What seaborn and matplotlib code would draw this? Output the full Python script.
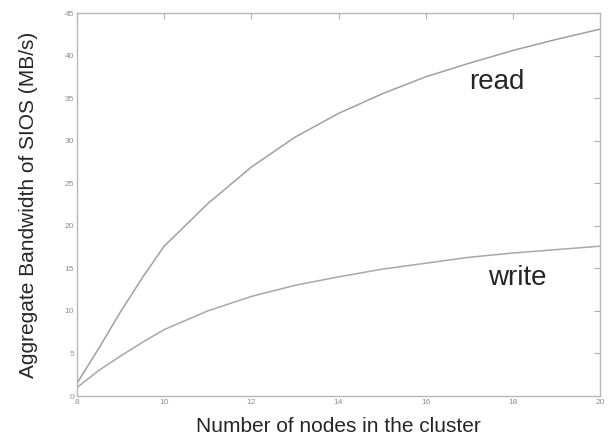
import numpy as np
import pandas as pd
import matplotlib
matplotlib.use("Agg")
import matplotlib.pyplot as plt
import seaborn as sns

# ── Data ────────────────────────────────────────────────────
nodes = [8, 8.5, 9, 9.5, 10, 11, 12, 13, 14, 15, 16, 17, 18, 19, 20]
read_bw = [1.5, 5.6, 9.9, 13.9, 17.6, 22.6, 26.9, 30.4, 33.2, 35.5,
           37.5, 39.1, 40.6, 41.9, 43.1]
write_bw = [1.0, 3.0, 4.7, 6.3, 7.8, 10.0, 11.7, 13.0, 14.0, 14.9,
            15.6, 16.3, 16.8, 17.2, 17.6]
x_ticks = [8, 10, 12, 14, 16, 18, 20]
y_ticks = [0, 5, 10, 15, 20, 25, 30, 35, 40, 45]

df = pd.DataFrame({
    'nodes': nodes * 2,
    'bw': read_bw + write_bw,
    'mode': ['read'] * len(nodes) + ['write'] * len(nodes),
})

# ── Style ───────────────────────────────────────────────────
sns.set_style("white")
plt.rcParams['font.family'] = ['Liberation Sans', 'DejaVu Sans']

fig = plt.figure(figsize=(6.1, 4.4), dpi=100)
ax = fig.add_axes([77 / 610, 44 / 440, 523 / 610, 383 / 440])

sns.lineplot(data=df, x='nodes', y='bw', hue='mode',
             palette=['#a0a0a0', '#a8a8a8'], linewidth=1.1,
             legend=False, ax=ax)

ax.set_xlim(8, 20)
ax.set_ylim(0, 45)
ax.set_xticks(x_ticks)
ax.set_yticks(y_ticks)
ax.tick_params(direction='in', length=4, width=0.8, color='#b0b0b0',
               labelsize=6, labelcolor='#909090',
               top=True, right=True, pad=2)
for sp in ax.spines.values():
    sp.set_color('#b8b8b8')
    sp.set_linewidth(1.0)

ax.set_xlabel('Number of nodes in the cluster', fontsize=15, labelpad=8)
ax.set_ylabel('Aggregate Bandwidth of SIOS (MB/s)', fontsize=15, labelpad=19)

ax.text(17.63, 36.9, 'read', fontsize=20, ha='center', va='center')
ax.text(18.1, 13.9, 'write', fontsize=20, ha='center', va='center')

plt.savefig('out.png', dpi=100)
